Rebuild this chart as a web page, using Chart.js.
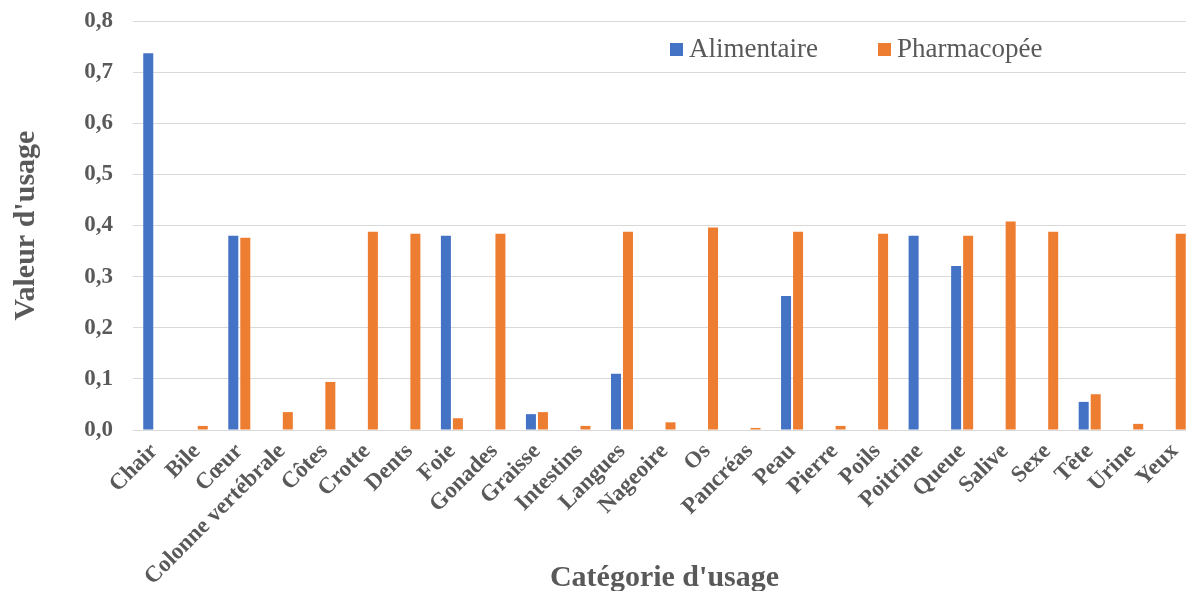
<!DOCTYPE html>
<html>
<head>
<meta charset="utf-8">
<script src="https://cdn.jsdelivr.net/npm/chart.js@4/dist/chart.umd.min.js"></script>
<style>
  html, body { margin: 0; padding: 0; background: #fff; overflow: hidden; width: 1186px; height: 591px; }
  #wrap { width: 1196px; height: 591px; position: relative; }
</style>
</head>
<body>
<div id="wrap"><canvas id="c"></canvas></div>
<script>
const categories = ["Chair", "Bile", "Cœur", "Colonne vertébrale", "Côtes", "Crotte", "Dents", "Foie", "Gonades", "Graisse", "Intestins", "Langues", "Nageoire", "Os", "Pancréas", "Peau", "Pierre", "Poils", "Poitrine", "Queue", "Salive", "Sexe", "Tête", "Urine", "Yeux"];
const alimentaire = [0.737, 0, 0.380, 0, 0, 0, 0, 0.380, 0, 0.031, 0, 0.110, 0, 0, 0, 0.262, 0, 0, 0.380, 0.321, 0, 0, 0.055, 0, 0];
const pharmacopee = [0, 0.008, 0.376, 0.035, 0.094, 0.388, 0.384, 0.023, 0.384, 0.035, 0.008, 0.388, 0.015, 0.396, 0.004, 0.388, 0.008, 0.384, 0, 0.380, 0.408, 0.388, 0.070, 0.012, 0.384];
const seriesNames = ["Alimentaire", "Pharmacopée"];
const yTicks = [0, 0.1, 0.2, 0.3, 0.4, 0.5, 0.6, 0.7, 0.8];

const GREY = '#595959';
const FONT = "'Liberation Serif', 'Times New Roman', serif";

const legendPlugin = {
  id: 'customLegend',
  afterDraw(chart) {
    const ctx = chart.ctx;
    const items = [
      { x: 670, color: chart.data.datasets[0].backgroundColor, label: chart.data.datasets[0].label },
      { x: 878, color: chart.data.datasets[1].backgroundColor, label: chart.data.datasets[1].label }
    ];
    ctx.save();
    ctx.font = "27px " + FONT;
    ctx.textBaseline = 'middle';
    ctx.textAlign = 'left';
    items.forEach(it => {
      ctx.fillStyle = it.color;
      ctx.fillRect(it.x, 43, 13, 13);
      ctx.fillStyle = GREY;
      ctx.fillText(it.label, it.x + 19, 50);
    });
    ctx.restore();
  }
};

new Chart(document.getElementById('c'), {
  type: 'bar',
  data: {
    labels: categories,
    datasets: [
      { label: seriesNames[0], data: alimentaire, backgroundColor: '#4472C4', categoryPercentage: 0.565, barPercentage: 0.833 },
      { label: seriesNames[1], data: pharmacopee, backgroundColor: '#ED7D31', categoryPercentage: 0.565, barPercentage: 0.833 }
    ]
  },
  options: {
    responsive: true,
    maintainAspectRatio: false,
    animation: false,
    devicePixelRatio: 1,
    layout: { padding: { top: 21, right: 0, left: 0, bottom: 0 } },
    plugins: {
      legend: { display: false },
      tooltip: { enabled: false }
    },
    scales: {
      x: {
        grid: { display: false, drawTicks: false },
        border: { display: true, color: '#d9d9d9', width: 1 },
        ticks: {
          color: GREY,
          font: { family: FONT, size: 23, weight: 'bold' },
          maxRotation: 45, minRotation: 45,
          autoSkip: false,
          padding: 8
        },
        title: {
          display: true,
          text: "Catégorie d'usage",
          color: GREY,
          font: { family: FONT, size: 30, weight: 'bold', lineHeight: 1 },
          padding: { top: 0, bottom: -2 }
        },
        afterFit(scale) { scale.height = 161; scale.paddingLeft = 0; scale.paddingRight = 0; }
      },
      y: {
        min: 0, max: 0.8,
        afterBuildTicks(scale) { scale.ticks = yTicks.map(v => ({ value: v })); },
        grid: { color: '#d9d9d9', lineWidth: 1, drawTicks: false },
        border: { display: false },
        ticks: {
          color: GREY,
          font: { family: FONT, size: 23, weight: 'bold' },
          padding: 20,
          callback: v => v.toFixed(1).replace('.', ',')
        },
        title: {
          display: true,
          text: "Valeur d'usage",
          color: GREY,
          font: { family: FONT, size: 30, weight: 'bold', lineHeight: 1 },
          padding: { top: 11, bottom: 0 }
        },
        afterFit(scale) { scale.width = 133; scale.paddingTop = 0; scale.paddingBottom = 0; }
      }
    }
  },
  plugins: [legendPlugin]
});
</script>
</body>
</html>
